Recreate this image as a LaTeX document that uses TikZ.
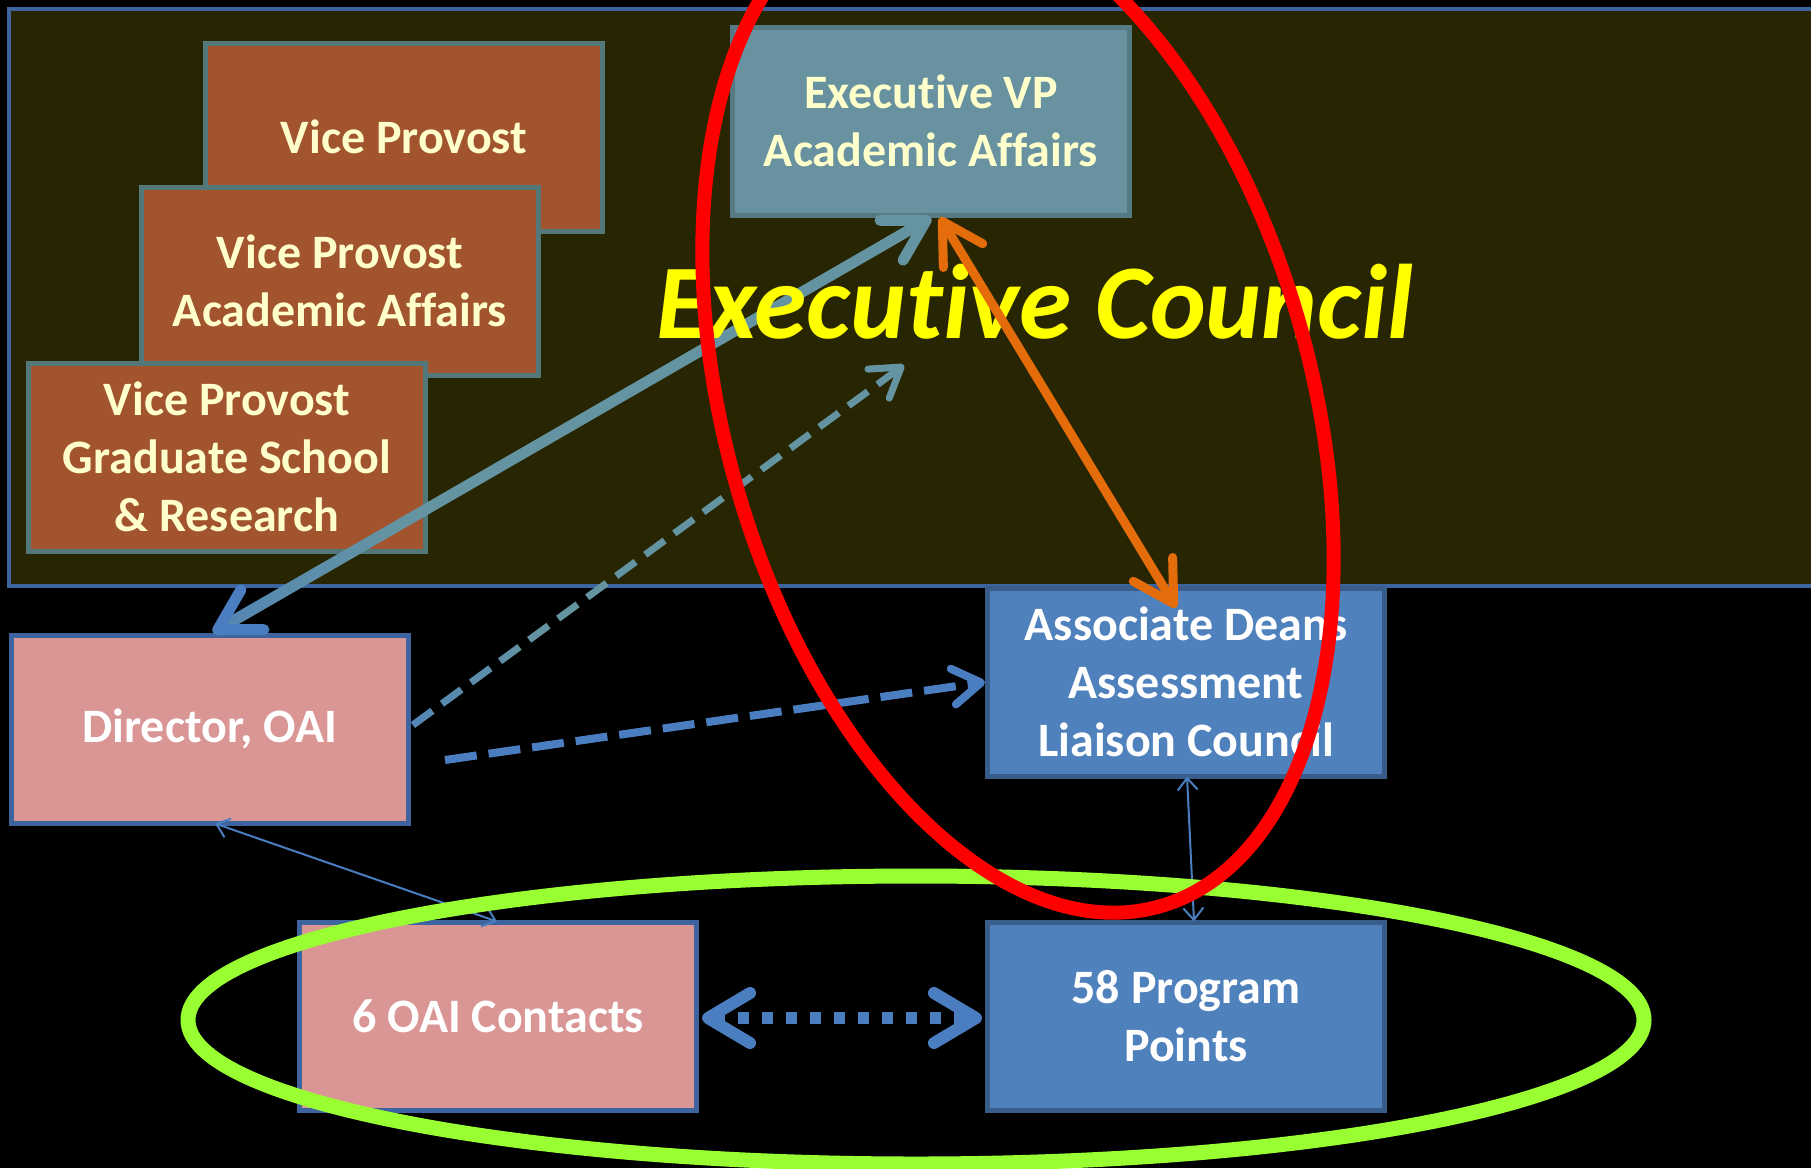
\documentclass[tikz,border=0pt]{standalone}
\usepackage{fontspec}
\setmainfont{Carlito}[Ligatures=NoCommon]
\usetikzlibrary{arrows.meta,calc,fadings}

\definecolor{panelfill}{RGB}{40,38,2}
\definecolor{panelline}{RGB}{60,100,160}
\definecolor{vpfill}{RGB}{161,84,46}
\definecolor{vpline}{RGB}{82,120,122}
\definecolor{evpfill}{RGB}{104,146,160}
\definecolor{evpline}{RGB}{86,122,132}
\definecolor{pinkfill}{RGB}{217,150,148}
\definecolor{pinkline}{RGB}{62,100,160}
\definecolor{bluefill}{RGB}{79,129,189}
\definecolor{blueline}{RGB}{56,93,138}
\definecolor{cream}{RGB}{255,255,204}
\definecolor{tealarrow}{RGB}{100,148,162}
\definecolor{bluearrow}{RGB}{74,126,192}
\definecolor{orangearrow}{RGB}{228,108,10}
\definecolor{ringred}{RGB}{255,0,0}
\definecolor{ringgreen}{RGB}{153,255,51}
\definecolor{titleyellow}{RGB}{255,255,0}

% blue at the director end of the links that run up to the council
\begin{tikzfadingfrompicture}[name=bluefade]
  \fill[transparent!0] (-50bp,-50bp) rectangle (-32bp,50bp);
  \shade[left color=transparent!0, right color=transparent!100] (-32bp,-50bp) rectangle (-12bp,50bp);
  \fill[transparent!100] (-12bp,-50bp) rectangle (50bp,50bp);
\end{tikzfadingfrompicture}

\tikzset{
  bigbarb/.tip={Straight Barb[length=40pt,width=46pt,round]},
  midbarb/.tip={Straight Barb[length=28pt,width=36pt,round]},
  widebarb/.tip={Straight Barb[length=42pt,width=50pt,round]},
  thinbarb/.tip={Straight Barb[length=12pt,width=20pt]},
}

\begin{document}
\begin{tikzpicture}[x=1pt,y=-1pt,
  panel/.style={fill=panelfill, draw=panelline, line width=4pt},
  box/.style={draw, line width=5pt, minimum width=397pt, minimum height=188pt,
    inner sep=0pt, align=center, font=\bfseries\fontsize{48}{58}\selectfont},
  vpbox/.style={box, fill=vpfill, draw=vpline, text=cream},
  evpbox/.style={box, fill=evpfill, draw=evpline, text=cream},
  pinkbox/.style={box, fill=pinkfill, draw=pinkline, text=white},
  bluebox/.style={box, fill=bluefill, draw=blueline, text=white},
  title/.style={text=titleyellow, font=\bfseries\itshape\fontsize{106}{120}\selectfont},
  solidlink/.style={line width=11pt, draw=tealarrow},
  dashlink/.style={line width=7pt, dash pattern=on 24pt off 12pt},
  orangelink/.style={line width=9pt, draw=orangearrow},
  thinlink/.style={line width=2pt, draw=bluearrow},
  dotlink/.style={line width=12pt, draw=bluearrow, dash pattern=on 11pt off 13pt},
]
\fill[black] (0,0) rectangle (1811,1168);
\useasboundingbox (0,0) rectangle (1811,1168);
\clip (0,0) rectangle (1811,1168);

% council panel
\path[panel] (9,9) rectangle (1840,586);

% boxes
\node[vpbox] (vp1) at (404,137) {Vice Provost};
\node[vpbox] (vp2) at (340,281) {Vice Provost\\Academic Affairs};
\node[vpbox] (vp3) at (227,457) {Vice Provost\\Graduate School\\\& Research};
\node[evpbox] (evp) at (931,121) {Executive VP\\Academic Affairs};
\node[pinkbox] (dir) at (210,729) {Director, OAI};
\node[bluebox] (adalc) at (1186,682) {Associate Deans\\Assessment\\Liaison Council};
\node[pinkbox] (oai) at (498,1016) {6 OAI Contacts};
\node[bluebox] (prog) at (1186,1016) {58 Program\\Points};

\coordinate (dirtop) at ($(dir.north)+(3,0)$);
\coordinate (councilpt) at (904,365);
\coordinate (dirright) at ($(dir.east)+(2,-4)$);

% director <-> executive VP
\draw[solidlink, {bigbarb[color=bluearrow]}-{bigbarb}] (dirtop) -- (evp.south);
\draw[line width=11pt, bluearrow, line cap=round, path fading=bluefade, shorten <=8pt]
  (dirtop) -- (evp.south);

% director -> council
\draw[dashlink, draw=tealarrow, -{midbarb}] (dirright) -- (councilpt);
\draw[dashlink, draw=bluearrow, path fading=bluefade] (dirright) -- (councilpt);

\node[title] (council) at (1035,302) {Executive Council};

% executive VP <-> associate deans
\draw[orangelink, {bigbarb}-{bigbarb}] ($(evp.south)+(9,0)$) -- ($(adalc.north)+(-10,22)$);

% director -> associate deans
\coordinate (dirlow) at (445,760);
\draw[dashlink, line width=8pt, dash pattern=on 32pt off 12pt, draw=bluearrow, -{midbarb}] (dirlow) -- (adalc.west);

% thin two-way links
\draw[thinlink, {thinbarb}-{thinbarb}] ($(dir.south)+(5,-2)$) -- ($(oai.north)+(-1,2)$);
\draw[thinlink, {thinbarb}-{thinbarb}] ($(adalc.south)+(1,-2)$) -- ($(prog.north)+(8,2)$);

% contacts <-> program points
\draw[dotlink, {widebarb}-{widebarb}] ($(oai.east)+(3,2)$) -- ($(prog.west)+(-3,2)$);

% highlight rings
\draw[ringgreen, line width=15pt] (916,1020) ellipse [x radius=728pt, y radius=144pt];
\draw[ringred, line width=14pt, rotate around={15.8:(1018,405)}] (1018,405) ellipse [x radius=293pt, y radius=521pt];
\end{tikzpicture}
\end{document}
